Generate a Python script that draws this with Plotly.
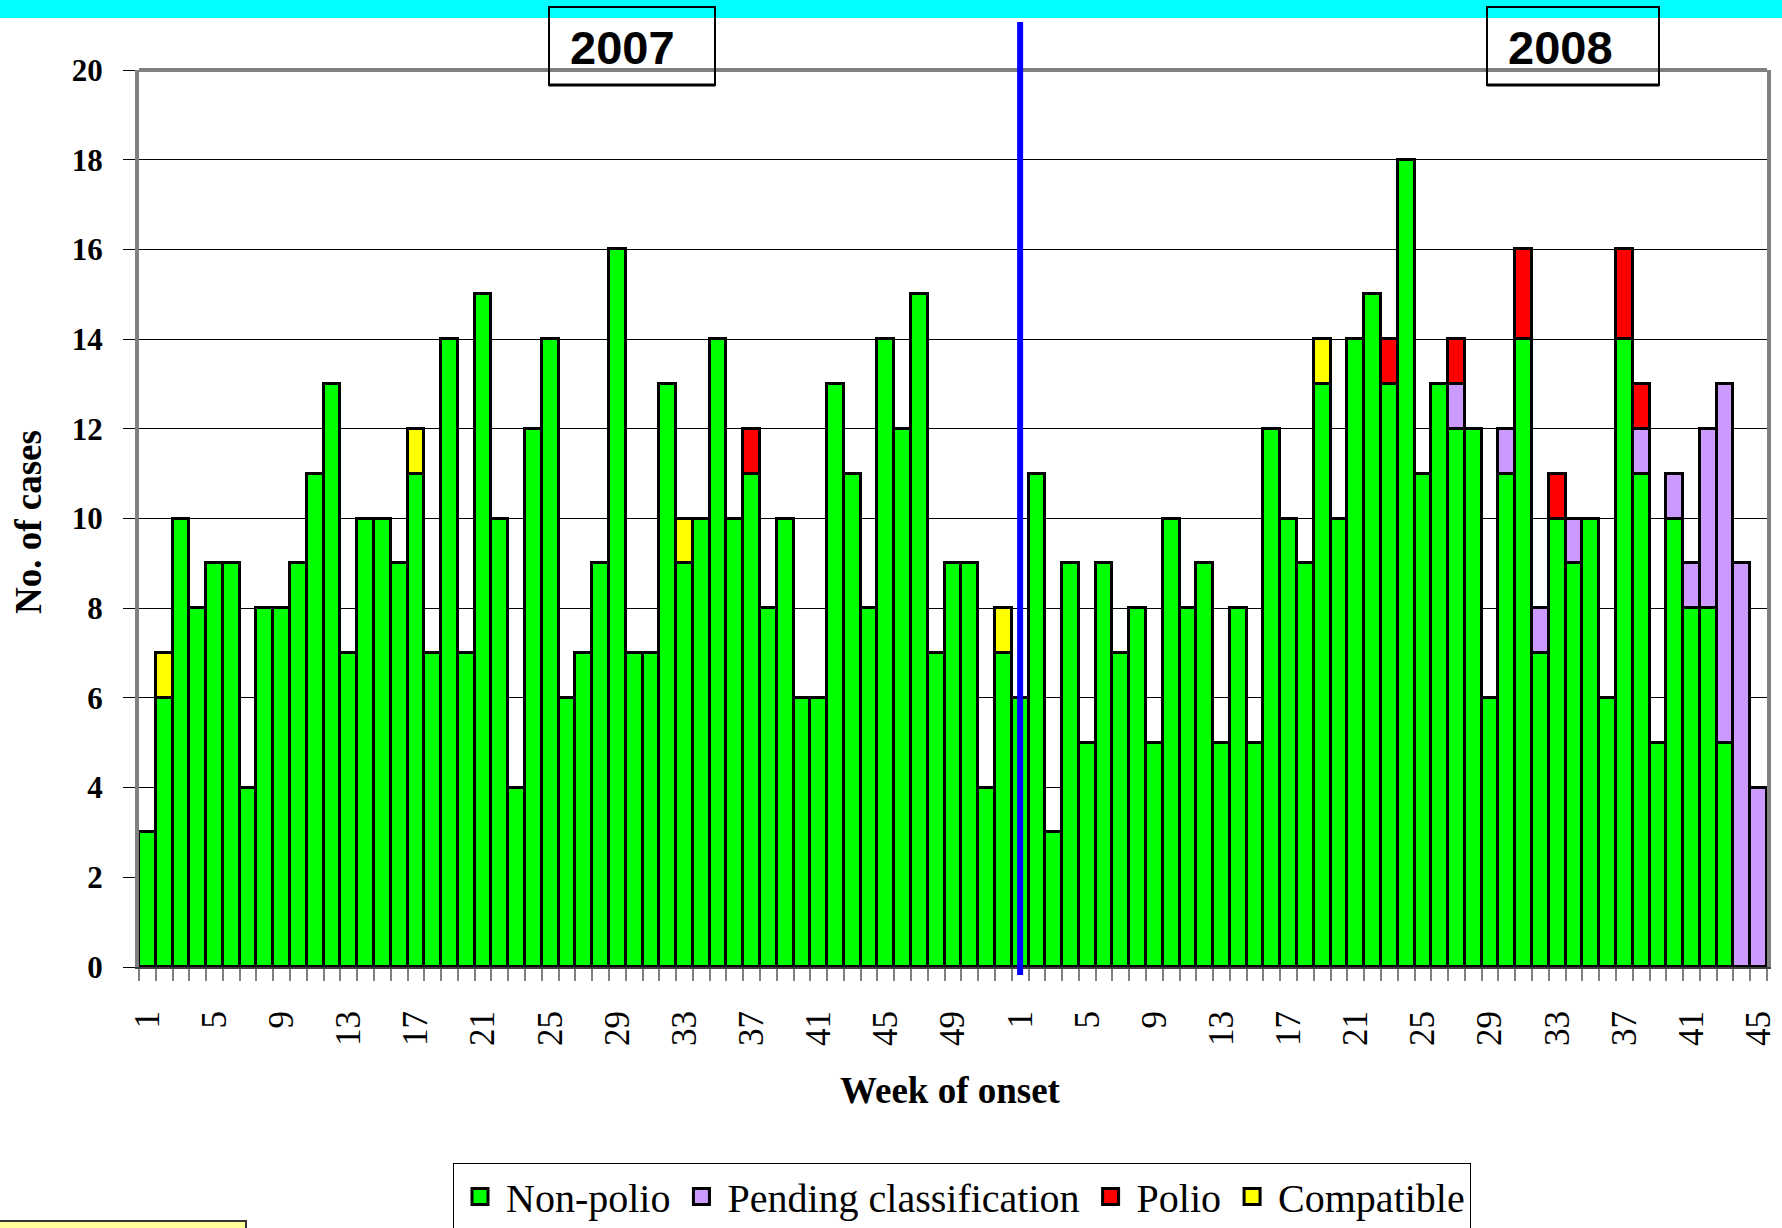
import plotly.graph_objects as go

# ---------------- data ----------------
weeks_2007 = list(range(1, 53))
weeks_2008 = list(range(1, 46))

non_polio_2007 = [3, 6, 10, 8, 9, 9, 4, 8, 8, 9, 11, 13, 7, 10, 10, 9, 11, 7, 14, 7,
                  15, 10, 4, 12, 14, 6, 7, 9, 16, 7, 7, 13, 9, 10, 14, 10, 11, 8, 10, 6,
                  6, 13, 11, 8, 14, 12, 15, 7, 9, 9, 4, 7]
pending_2007 = [0] * 52
polio_2007 = [0] * 36 + [1] + [0] * 15
compatible_2007 = [0, 1] + [0] * 14 + [1] + [0] * 15 + [1] + [0] * 18 + [1]

non_polio_2008 = [6, 11, 3, 9, 5, 9, 7, 8, 5, 10, 8, 9, 5, 8, 5, 12, 10, 9, 13, 10,
                  14, 15, 13, 18, 11, 13, 12, 12, 6, 11, 14, 7, 10, 9, 10, 6, 14, 11, 5, 10,
                  8, 8, 5, 0, 0]
pending_2008 = [0, 0, 0, 0, 0, 0, 0, 0, 0, 0, 0, 0, 0, 0, 0, 0, 0, 0, 0, 0,
                0, 0, 0, 0, 0, 0, 1, 0, 0, 1, 0, 1, 0, 1, 0, 0, 0, 1, 0, 1,
                1, 4, 8, 9, 4]
polio_2008 = [0, 0, 0, 0, 0, 0, 0, 0, 0, 0, 0, 0, 0, 0, 0, 0, 0, 0, 0, 0,
              0, 0, 1, 0, 0, 0, 1, 0, 0, 0, 2, 0, 1, 0, 0, 0, 2, 1, 0, 0,
              0, 0, 0, 0, 0]
compatible_2008 = [0] * 18 + [1] + [0] * 26

series_names = ["Non-polio", "Pending classification", "Polio", "Compatible"]
series_colors = ["#00FF00", "#CC99FF", "#FF0000", "#FFFF00"]
years = ["2007", "2008"]

# ---------------- build ----------------
week_labels = [str(w) for w in weeks_2007] + [str(w) for w in weeks_2008]
pos = list(range(1, len(week_labels) + 1))
series_values = [
    non_polio_2007 + non_polio_2008,
    pending_2007 + pending_2008,
    polio_2007 + polio_2008,
    compatible_2007 + compatible_2008,
]

fig = go.Figure()
for name, color, vals in zip(series_names, series_colors, series_values):
    fig.add_trace(go.Bar(
        x=pos, y=[v if v else None for v in vals], name=name, showlegend=False,
        marker=dict(color=color, line=dict(color="black", width=3)),
    ))
# legend entries (square swatches like the original)
for name, color in zip(series_names, series_colors):
    fig.add_trace(go.Scatter(
        x=[None], y=[None], mode="markers", name=name,
        marker=dict(symbol="square", size=16, color=color, line=dict(color="black", width=3)),
    ))

tick_idx = [i for i, lab in enumerate(week_labels) if (int(lab) - 1) % 4 == 0]
tickvals = [pos[i] for i in tick_idx]
ticktext = [week_labels[i] for i in tick_idx]

L, R, T, B = 139, 15, 70, 261
W, H = 1782, 1228
pw, ph = W - L - R, H - T - B


def px_x(px):
    return (px - L) / pw


def px_y(py):
    return (H - B - py) / ph


serif = "Liberation Serif, Times New Roman, serif"

fig.update_layout(
    width=W, height=H,
    margin=dict(l=L, r=R, t=T, b=B, autoexpand=False),
    barmode="stack", bargap=0,
    plot_bgcolor="white", paper_bgcolor="white",
    showlegend=True,
    legend=dict(orientation="h", x=px_x(453), y=px_y(1163), xanchor="left", yanchor="top",
                bordercolor="black", borderwidth=1, bgcolor="white",
                font=dict(family=serif, size=40, color="black"), traceorder="normal",
                itemsizing="trace", itemwidth=42),
)

fig.update_xaxes(
    range=[0.5, len(pos) + 0.5], automargin=False,
    tickmode="array", tickvals=tickvals, ticktext=ticktext, tickangle=-90,
    tickfont=dict(family=serif, size=35, color="black"),
    ticks="outside", ticklen=12, tickcolor="rgba(0,0,0,0)", ticklabelstandoff=16,
    minor=dict(tick0=0.5, dtick=1, ticks="outside", ticklen=12, tickcolor="#808080",
               tickwidth=2, showgrid=False),
    showline=True, linecolor="#404040", linewidth=2,
    showgrid=False, zeroline=False,
)
fig.update_yaxes(
    range=[0, 20], dtick=2, tick0=0, automargin=False,
    tickfont=dict(family=serif, size=31, color="black", weight="bold"),
    ticks="outside", ticklen=12, tickcolor="black", tickwidth=1, ticklabelstandoff=14,
    showline=True, linecolor="#808080", linewidth=4, mirror=True,
    showgrid=True, gridcolor="black", gridwidth=1, zeroline=False,
)

# axis titles
fig.add_annotation(text="<b>No. of cases</b>", xref="paper", yref="paper",
                   x=px_x(28), y=px_y(522), textangle=-90, showarrow=False,
                   xanchor="center", yanchor="middle",
                   font=dict(family=serif, size=37, color="black"))
fig.add_annotation(text="<b>Week of onset</b>", xref="paper", yref="paper",
                   x=px_x(950), y=px_y(1090), showarrow=False,
                   xanchor="center", yanchor="middle",
                   font=dict(family=serif, size=37, color="black"))

# top cyan band
fig.add_shape(type="rect", xref="paper", yref="paper", x0=px_x(-2), x1=px_x(W + 2),
              y0=px_y(18), y1=px_y(-2), fillcolor="#00FFFF", line=dict(width=0), layer="above")

# top border of plot
fig.add_shape(type="line", xref="paper", yref="paper", x0=0, x1=1, y0=1, y1=1,
              line=dict(color="#808080", width=4))

# year boxes
for yr, (bx0, bx1), tx in zip(years, [(549, 715), (1487, 1659)], [622, 1560]):
    fig.add_shape(type="rect", xref="paper", yref="paper", x0=px_x(bx0), x1=px_x(bx1),
                  y0=px_y(85), y1=px_y(7), line=dict(color="black", width=2),
                  fillcolor="rgba(0,0,0,0)")
    fig.add_shape(type="line", xref="paper", yref="paper", x0=px_x(bx0), x1=px_x(bx1),
                  y0=px_y(85), y1=px_y(85), line=dict(color="black", width=3))
    fig.add_annotation(text="<b>" + yr + "</b>", xref="paper", yref="paper",
                       x=px_x(tx), y=px_y(47), showarrow=False,
                       xanchor="center", yanchor="middle",
                       font=dict(family="Liberation Sans, Arial, sans-serif", size=47, color="black"))

# year divider (at first week of 2008)
div_x = pos[len(weeks_2007)]
fig.add_shape(type="line", xref="x", yref="paper", x0=div_x, x1=div_x,
              y0=px_y(975), y1=px_y(22), line=dict(color="#0000FF", width=6))

# bottom-left yellow box (partially visible)
fig.add_shape(type="rect", xref="paper", yref="paper", x0=px_x(-2), x1=px_x(246),
              y0=px_y(1232), y1=px_y(1221), fillcolor="#FFFF99",
              line=dict(color="#333333", width=2))

fig.write_html("out.html", config={"displayModeBar": False},
               post_script="document.body.style.margin='0';document.body.style.overflow='hidden';")
